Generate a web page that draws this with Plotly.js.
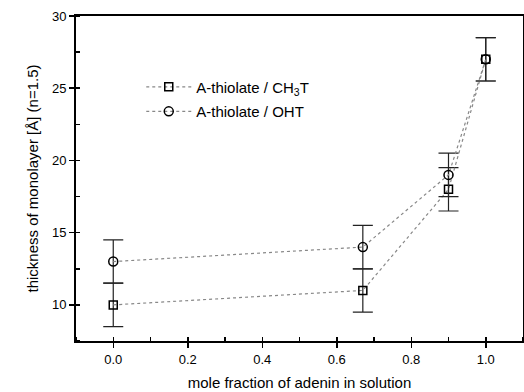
<!DOCTYPE html>
<html>
<head>
<meta charset="utf-8">
<script src="https://cdn.plot.ly/plotly-3.0.1.min.js"></script>
<style>html,body{margin:0;padding:0;background:#fff;}#chart{width:524px;height:392px;}</style>
</head>
<body>
<div id="chart"></div>
<script>
const xFraction = [0.0, 0.67, 0.9, 1.0];
const ch3tThickness = [10, 11, 18, 27];
const ch3tError = [1.5, 1.5, 1.5, 1.5];
const ohtThickness = [13, 14, 19, 27];
const ohtError = [1.5, 1.5, 1.5, 1.5];
const seriesNames = ['A-thiolate / CH<sub>3</sub>T', 'A-thiolate / OHT'];
const xTicks = [0.0, 0.2, 0.4, 0.6, 0.8, 1.0];
const xTickLabels = ['0.0', '0.2', '0.4', '0.6', '0.8', '1.0'];
const yTicks = [10, 15, 20, 25, 30];

const font = 'Liberation Sans, Arial, sans-serif';
function errStyle(arr){
  return {type:'data', array:arr, visible:true, color:'#222', thickness:1.2, width:10};
}
const traces = [
  {x:xFraction, y:ch3tThickness, name:seriesNames[0], legendgroup:'a', type:'scatter', mode:'lines+markers',
   line:{color:'#888', width:1.2, dash:'dot'},
   marker:{symbol:'square-open', size:8, color:'#000', line:{width:1.5, color:'#000'}},
   error_y:errStyle(ch3tError)},
  {x:xFraction, y:ohtThickness, name:seriesNames[1], legendgroup:'b', type:'scatter', mode:'lines+markers',
   line:{color:'#888', width:1.2, dash:'dot'},
   marker:{symbol:'circle-open', size:9, color:'#000', line:{width:1.5, color:'#000'}},
   error_y:errStyle(ohtError)}
];
const layout = {
  width:524, height:392,
  margin:{l:76, r:1, t:16, b:51},
  paper_bgcolor:'#fff', plot_bgcolor:'#fff',
  font:{family:font, color:'#000', size:13},
  showlegend:true,
  legend:{x:0.146, y:0.832, xanchor:'left', yanchor:'top', bgcolor:'rgba(0,0,0,0)',
          font:{size:15, family:font}, tracegroupgap:2, itemwidth:45},
  xaxis:{range:[-0.1, 1.1], tickvals:xTicks, ticktext:xTickLabels,
         showline:true, linecolor:'#000', linewidth:2, mirror:true,
         ticks:'outside', ticklen:5, tickwidth:1.5, tickcolor:'#000',
         minor:{dtick:0.1, ticks:'inside', ticklen:4, tickwidth:1.5, tickcolor:'#000'},
         showgrid:false, zeroline:false,
         tickfont:{size:13, family:font},
         title:{text:'mole fraction of adenin in solution', font:{size:15, family:font}, standoff:12}},
  yaxis:{range:[7.5, 30], tickvals:yTicks,
         showline:true, linecolor:'#000', linewidth:2, mirror:true,
         ticks:'outside', ticklen:5, tickwidth:1.5, tickcolor:'#000',
         minor:{dtick:2.5, ticks:'inside', ticklen:4, tickwidth:1.5, tickcolor:'#000'},
         showgrid:false, zeroline:false,
         tickfont:{size:13, family:font},
         title:{text:'thickness of monolayer [Å] (n=1.5)', font:{size:15, family:font}, standoff:10}},
  xaxis2:{overlaying:'x', side:'top', matches:'x', range:[-0.1, 1.1], dtick:0.1, tick0:0,
          ticks:'inside', ticklen:5, tickwidth:1.5, tickcolor:'#000', showticklabels:false,
          showgrid:false, zeroline:false, showline:false},
  yaxis2:{overlaying:'y', side:'right', matches:'y', range:[7.5, 30], dtick:2.5, tick0:0,
          ticks:'inside', ticklen:6, tickwidth:1.5, tickcolor:'#000', showticklabels:false,
          showgrid:false, zeroline:false, showline:false}
};
Plotly.newPlot('chart', traces, layout, {staticPlot:true, displayModeBar:false});
</script>
</body>
</html>
